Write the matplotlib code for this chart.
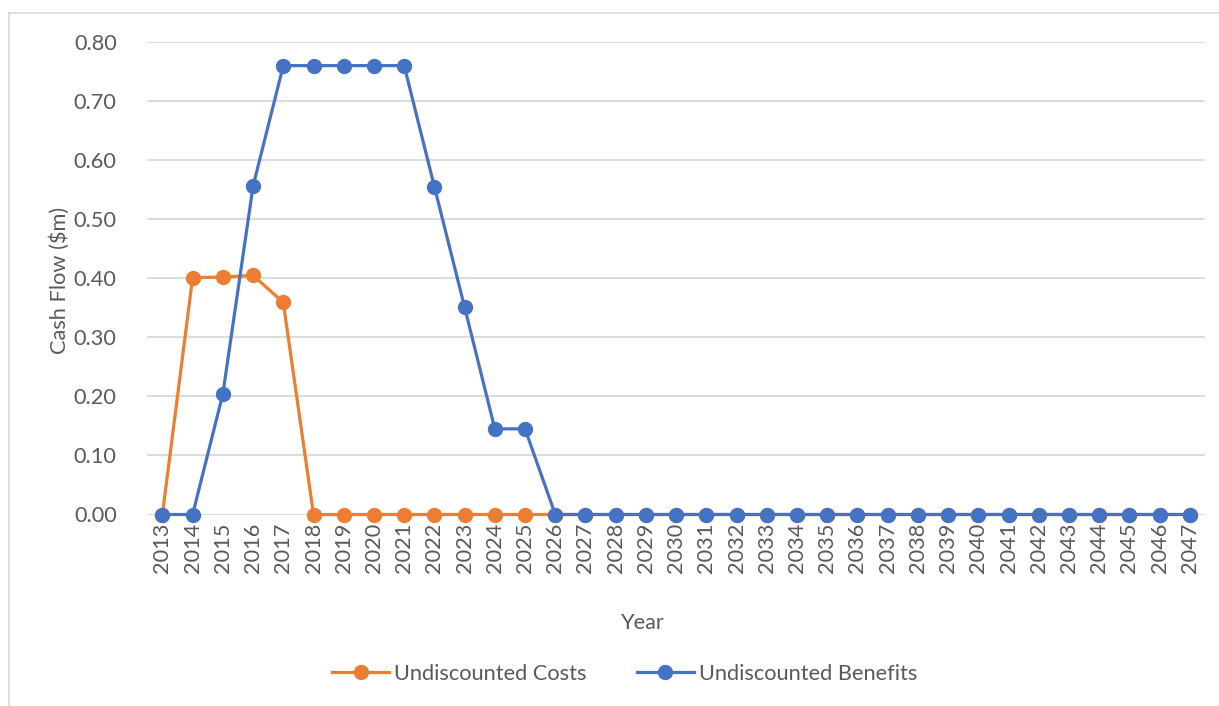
import matplotlib
matplotlib.use("Agg")
import matplotlib.pyplot as plt
from matplotlib.lines import Line2D

years = [str(y) for y in range(2013, 2048)]
costs = [0.0, 0.401, 0.402, 0.405, 0.359] + [0.0] * 30
benefits = [0.0, 0.0, 0.204, 0.556, 0.760, 0.760, 0.760, 0.760, 0.760,
            0.555, 0.351, 0.145, 0.145] + [0.0] * 22
yticks = [0.0, 0.1, 0.2, 0.3, 0.4, 0.5, 0.6, 0.7, 0.8]

plt.rcParams['font.family'] = ['Lato', 'DejaVu Sans']
W, H = 1219, 706
fig = plt.figure(figsize=(W / 100, H / 100), dpi=100)
left, right, top, bottom = 147.3, 1205, 42, 514.5
ax = fig.add_axes([left / W, 1 - bottom / H, (right - left) / W, (bottom - top) / H])

x = list(range(len(years)))
tc = '#595959'
fs = 15.7
orange, blue = '#ED7D31', '#4472C4'
ax.plot(x, costs, color=orange, lw=2.3, marker='o', ms=10, label='Undiscounted Costs', zorder=3, clip_on=False)
ax.plot(x, benefits, color=blue, lw=2.3, marker='o', ms=10, label='Undiscounted Benefits', zorder=4, clip_on=False)

ax.set_xlim(-0.5, len(years) - 0.5)
ax.set_ylim(0, 0.8)
ax.set_yticks(yticks)
ax.set_yticklabels([f"{v:.2f}" for v in yticks])
ax.set_xticks(x)
ax.set_xticklabels(years, rotation=90)
ax.tick_params(axis='both', length=0, labelsize=fs, colors=tc)
ax.tick_params(axis='y', pad=22)
ax.tick_params(axis='x', pad=6)
ax.grid(axis='y', color='#D9D9D9', lw=1.3)
ax.set_axisbelow(True)
for s in ax.spines.values():
    s.set_visible(False)

fig.text(60 / W, 1 - 280 / H, 'Cash Flow ($m)', rotation=90, ha='center', va='center', fontsize=fs, color=tc)
fig.text(643 / W, 1 - 623 / H, 'Year', ha='center', va='center', fontsize=fs, color=tc)

leg = fig.legend(loc='center', bbox_to_anchor=(625 / W, 1 - 674 / H), ncol=2, frameon=False,
                 fontsize=fs, handlelength=2.6, columnspacing=2.3, handletextpad=0.25)
for t in leg.get_texts():
    t.set_color(tc)

fig.add_artist(Line2D([8.5 / W, 8.5 / W], [0, 1 - 13 / H], color='#D9D9D9', lw=1.2, transform=fig.transFigure))
fig.add_artist(Line2D([8.5 / W, 1], [1 - 13 / H, 1 - 13 / H], color='#D9D9D9', lw=1.2, transform=fig.transFigure))

fig.savefig('out.png', dpi=100)
